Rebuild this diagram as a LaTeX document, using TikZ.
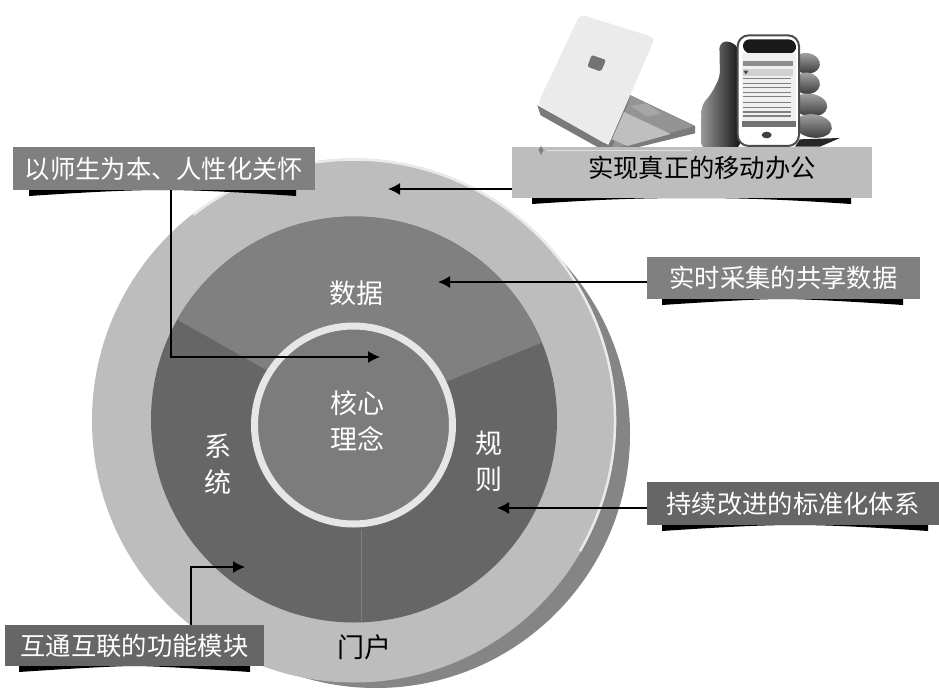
\documentclass[tikz,border=0pt]{standalone}
\usepackage{fontspec}
\setmainfont{Noto Sans CJK SC}
\usetikzlibrary{arrows.meta,calc}
\definecolor{discshadow}{HTML}{858585}
\definecolor{discouter}{HTML}{BDBDBD}
\definecolor{discedge}{HTML}{EAEAEA}
\definecolor{sectordark}{HTML}{666666}
\definecolor{sectormid}{HTML}{808080}
\definecolor{corefill}{HTML}{7C7C7C}
\definecolor{corering}{HTML}{E6E6E6}
\tikzset{
  labelbox/.style={draw=none,inner sep=0pt,font=\fontsize{25.3}{25}\selectfont,minimum height=#1},
  darkbox/.style={labelbox=42pt,fill=sectordark,text=white},
  midbox/.style={labelbox=42pt,fill=sectormid,text=white},
  lightbox/.style={labelbox=51pt,fill=discouter,text=black},
  disctext/.style={inner sep=0pt,font=\fontsize{27}{36}\selectfont,align=center,text=white},
  callout/.style={draw=black,line width=1.4pt,-{Latex[length=12pt,width=12pt]}},
  fold/.style={fill=black}
}
% curved black band under a label: x left, x right, y of the box's lower edge
\newcommand{\foldband}[3]{%
  \fill[fold] (#1,#3-1) -- (#2,#3-1) -- (#2,#3+6)
    .. controls ({#2-60},#3+2) and ({#2-100},#3) .. ({(#1+#2)/2},#3)
    .. controls ({#1+100},#3) and ({#1+60},#3+2) .. (#1,#3+6) -- cycle;}
\begin{document}
\begin{tikzpicture}[x=1pt,y=-1pt]
\useasboundingbox (0,0) rectangle (939,690);
\begin{scope}
\clip (0,0) rectangle (939,690);
% discs
\coordinate (c) at (354,419.5);
\coordinate (o) at (354,420.5);
\fill[discshadow] (376,434) circle[radius=254];
\fill[discouter] (o) circle[radius=262];
\draw[discedge,line width=2.5pt] ($(o)+(30:261)$) arc[start angle=30,end angle=-128,radius=261];
\end{scope}
\fill[sectordark] (c) circle[radius=203];
\begin{scope}
\clip (c) circle[radius=203];
\fill[sectormid] (c) -- ($(c)+(-354,-200)$) -- ($(c)+(-354,-400)$) -- ($(c)+(376,-400)$) -- ($(c)+(376,-154)$) -- cycle;
\end{scope}
\draw[sectormid,line width=.7pt] (361,530) -- (361,621);
\node[circle,draw=corering,fill=corefill,line width=7pt,minimum size=198pt,inner sep=0pt] (core) at (353.5,425) {};
% disc labels
\node[disctext] (coretext) at (357,421) {核心\\理念};
\node[disctext] (data) at (356,293) {数据};
\node[disctext] (rules) at (489,461) {规\\则};
\node[disctext] (system) at (218,464) {系\\统};
\node[disctext,text=black] (portal) at (364,647) {门户};
% laptop and phone
\begin{scope}[xshift=500pt,x=.33333pt,y=-.33333pt]
  \fill[black!52] (112,316) -- (122,346) -- (330,462) -- (585,400) -- (585,378) -- (390,285) -- (325,435) -- cycle;
  \fill[black!42] (392,287) -- (585,378) -- (335,448) -- cycle;
  \fill[black!25] (372,336) -- (512,402) -- (382,438) -- (336,418) -- cycle;
  \fill[black!35] (392,318) -- (440,310) -- (482,340) -- (440,350) -- cycle;
  \fill[black!8,rounded corners=5pt] (240,43) -- (465,113) -- (325,436) -- (112,314) -- cycle;
  \fill[black!55,rounded corners=2pt] (275,165) -- (318,180) -- (303,215) -- (262,200) -- cycle;
  % hand
  \shade[left color=black!40,right color=black!92,rounded corners=6pt] (603,445) -- (605,315) -- (635,280) -- (660,230) -- (658,128) -- (692,122) -- (720,150) -- (720,445) -- cycle;
  \fill[black!85] (885,440) -- (960,440) -- (1020,414) -- (900,418) -- cycle;
  \foreach \fx/\fy/\fr/\fh in {920/190/40/31,920/250/40/32,930/315/52/34,940/378/56/35}
    \shade[rotate around={-8:(\fx,\fy)},top color=black!35,bottom color=black!78] (\fx,\fy) ellipse[x radius=\fr,y radius=\fh];
  % phone
  \draw[black!70,fill=white,line width=2pt,rounded corners=11pt] (713,106) rectangle (897,438);
  \fill[black!90,rounded corners=7pt] (728,118) -- (886,118) -- (890,160) -- (730,160) -- cycle;
  \fill[black!6] (725,160) rectangle (888,380);
  \fill[black!45] (730,182) rectangle (880,197);
  \fill[black!18] (730,208) rectangle (880,228);
  \fill[black!70] (730,212) -- (745,212) -- (738,224) -- cycle;
  \foreach \ly in {236,250,262,278,290,308,322,336,348}
    \draw[black!50,line width=1.1pt] (730,\ly) -- (872,\ly);
  \fill[black!55] (725,362) rectangle (888,380);
  \fill[black!75] (800,405) ellipse[x radius=15,y radius=10];
\end{scope}
% labels with their bands
\foldband{29}{296}{190}
\foldband{532}{851}{198}
\foldband{662}{903}{299}
\foldband{662}{928}{525}
\foldband{19}{250}{666}
\node[midbox,minimum width=302pt,minimum height=43pt] (care) at (164,168.5) {以师生为本、人性化关怀};
\node[lightbox,minimum width=360pt] (mobile) at (692,172.5) {};
\node[inner sep=0pt,font=\fontsize{25.3}{25}\selectfont] (mobiletext) at (702,168) {实现真正的移动办公};
\node[midbox,minimum width=273pt] (shared) at (783.5,278) {实时采集的共享数据};
\node[darkbox,minimum width=292pt,minimum height=43pt] (standard) at (793,503.5) {持续改进的标准化体系};
\node[darkbox,minimum width=259pt,minimum height=41pt] (modules) at (134.5,645.5) {互通互联的功能模块};
% small marks on the light box
\fill[black!50] (541,146) -- (543.5,150) -- (541,155) -- (538.5,150) -- cycle;
\draw[black!12,line width=.8pt] (547,150.5) -- (692,150.5);
% arrow targets
\coordinate (tcare) at (380,357);
\coordinate (tmobile) at (388,189);
\coordinate (tshared) at (438,282);
\coordinate (tstandard) at (497,508);
\coordinate (tmodules) at (245,567);
\draw[callout] (171,190) |- (tcare);
\draw[callout] (mobile.west |- tmobile) -- (tmobile);
\draw[callout] (shared.west |- tshared) -- (tshared);
\draw[callout] (standard.west |- tstandard) -- (tstandard);
\draw[callout] (191,625) |- (tmodules);
\end{tikzpicture}
\end{document}
